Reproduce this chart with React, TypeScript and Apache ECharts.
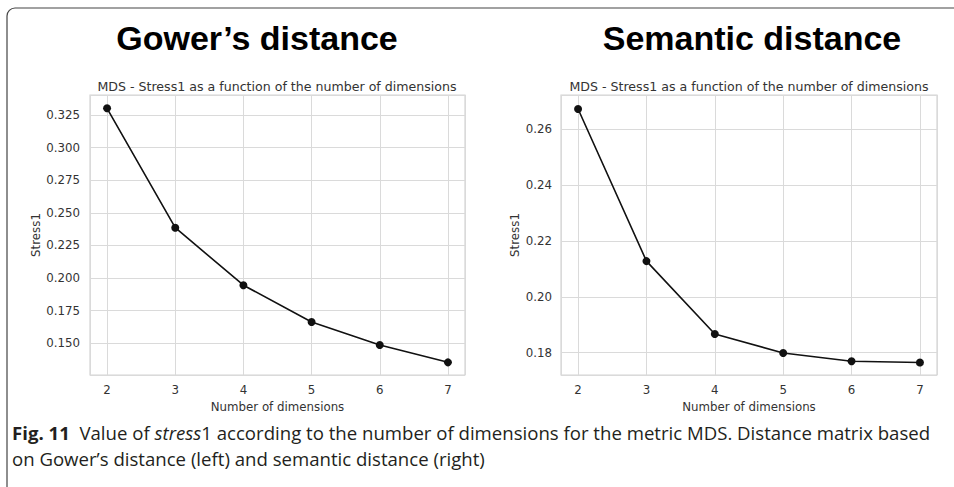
import React, { useEffect, useRef } from "react";
import * as echarts from "echarts";

const dims = [2, 3, 4, 5, 6, 7];
const gowerStress = [0.3301, 0.2386, 0.1945, 0.1663, 0.1487, 0.1354];
const semanticStress = [0.2673, 0.2128, 0.1867, 0.1799, 0.1769, 0.1765];
const leftTitle = "Gower\u2019s distance";
const rightTitle = "Semantic distance";
const subTitle = "MDS - Stress1 as a function of the number of dimensions";
const xName = "Number of dimensions";
const yName = "Stress1";
const captionLine1 =
  "{b|Fig. 11}  Value of {i|stress}1 according to the number of dimensions for the metric MDS. Distance matrix based";
const captionLine2 = "on Gower\u2019s distance (left) and semantic distance (right)";

const isMultiple = (v: number, step: number) => Math.abs(v / step - Math.round(v / step)) < 1e-6;

export default function App() {
  const ref = useRef<HTMLDivElement>(null);
  useEffect(() => {
    if (!ref.current) return;
    const chart = echarts.init(ref.current, undefined, { renderer: "svg" });
    const tickFont = { fontFamily: "DejaVu Sans", fontSize: 11.8, color: "#333" };
    const gridLine = { show: true, lineStyle: { color: "#dadada", width: 1 } };
    const capFont = "Open Sans, DejaVu Sans, sans-serif";
    const capSize = 18.6;
    const xAxisBase = (gridIndex: number) => ({
      type: "value",
      gridIndex,
      min: 1.75,
      max: 7.25,
      minInterval: 1,
      maxInterval: 1,
      axisLine: { show: false },
      axisTick: { show: false },
      splitLine: gridLine,
      axisLabel: {
        ...tickFont,
        margin: 9,
        formatter: (v: number) => (isMultiple(v, 1) ? String(v) : ""),
      },
      name: xName,
      nameLocation: "middle",
      nameGap: 24,
      nameTextStyle: { fontFamily: "DejaVu Sans", fontSize: 11.8, color: "#333" },
    });
    const series = (vals: number[], idx: number) => ({
      type: "line",
      xAxisIndex: idx,
      yAxisIndex: idx,
      data: dims.map((d, i) => [d, vals[i]]),
      symbol: "circle",
      symbolSize: 8,
      lineStyle: { color: "#111", width: 1.6 },
      itemStyle: { color: "#111" },
      showSymbol: true,
    });
    const centered = (text: string, x: number, y: number, fontSize: number, bold: boolean, family: string, fill: string) => ({
      type: "text",
      x,
      y,
      style: {
        text,
        fontFamily: family,
        fontWeight: bold ? "bold" : "normal",
        fontSize,
        fill,
        textAlign: "center",
        textVerticalAlign: "middle",
        align: "center",
        verticalAlign: "middle",
      },
    });
    chart.setOption({
      animation: false,
      backgroundColor: "#fff",
      grid: [
        { left: 90, top: 95, width: 375, height: 280, show: true, borderColor: "#d4d4d4", borderWidth: 1.2 },
        { left: 561, top: 95, width: 376, height: 280, show: true, borderColor: "#d4d4d4", borderWidth: 1.2 },
      ],
      xAxis: [xAxisBase(0), xAxisBase(1)],
      yAxis: [
        {
          type: "value",
          gridIndex: 0,
          min: 0.1257,
          max: 0.3403,
          minInterval: 0.025,
          maxInterval: 0.025,
          axisLine: { show: false },
          axisTick: { show: false },
          splitLine: gridLine,
          axisLabel: {
            ...tickFont,
            margin: 10,
            formatter: (v: number) => (isMultiple(v, 0.025) ? v.toFixed(3) : ""),
          },
          name: yName,
          nameLocation: "middle",
          nameGap: 46,
          nameTextStyle: { fontFamily: "DejaVu Sans", fontSize: 11.8, color: "#333" },
        },
        {
          type: "value",
          gridIndex: 1,
          min: 0.172,
          max: 0.2723,
          minInterval: 0.02,
          maxInterval: 0.02,
          axisLine: { show: false },
          axisTick: { show: false },
          splitLine: gridLine,
          axisLabel: {
            ...tickFont,
            margin: 9,
            formatter: (v: number) => (isMultiple(v, 0.02) ? v.toFixed(2) : ""),
          },
          name: yName,
          nameLocation: "middle",
          nameGap: 40,
          nameTextStyle: { fontFamily: "DejaVu Sans", fontSize: 11.8, color: "#333" },
        },
      ],
      series: [series(gowerStress, 0), series(semanticStress, 1)],
      graphic: [
        {
          type: "rect",
          shape: { x: 7, y: 8, width: 1000, height: 600, r: 8 },
          style: { fill: "none", stroke: "#444", lineWidth: 1.2 },
          silent: true,
        },
        centered(leftTitle, 257, 38, 34, true, "Liberation Sans, Arial, sans-serif", "#000"),
        centered(rightTitle, 752, 38, 34, true, "Liberation Sans, Arial, sans-serif", "#000"),
        centered(subTitle, 277, 86, 12.6, false, "DejaVu Sans", "#333"),
        centered(subTitle, 749, 86, 12.6, false, "DejaVu Sans", "#333"),
        {
          type: "text",
          x: 12,
          y: 432,
          style: {
            text: captionLine1,
            fontFamily: capFont,
            fontSize: capSize,
            fill: "#231f20",
            textVerticalAlign: "middle",
            verticalAlign: "middle",
            rich: {
              b: { fontWeight: "bold", fontFamily: capFont, fontSize: capSize, fill: "#231f20" },
              i: { fontStyle: "italic", fontFamily: capFont, fontSize: capSize, fill: "#231f20" },
            },
          },
        },
        {
          type: "text",
          x: 12,
          y: 458,
          style: {
            text: captionLine2,
            fontFamily: capFont,
            fontSize: capSize,
            fill: "#231f20",
            textVerticalAlign: "middle",
            verticalAlign: "middle",
          },
        },
      ],
    });
    return () => chart.dispose();
  }, []);
  return <div ref={ref} style={{ position: "fixed", left: 0, top: 0, width: 954, height: 487 }} />;
}
